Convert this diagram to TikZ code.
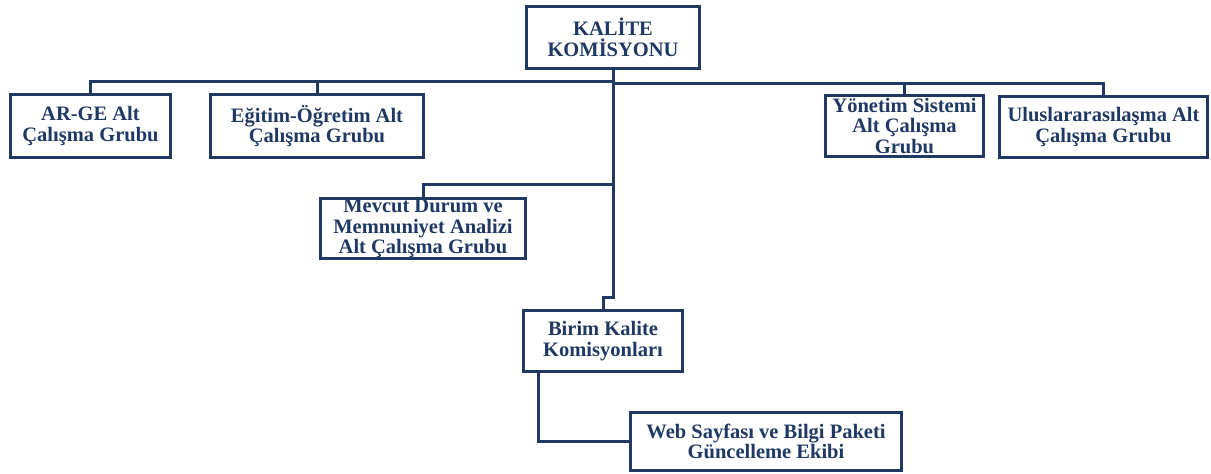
\documentclass[tikz,border=0pt]{standalone}
\usepackage{fontspec}
\setmainfont{Liberation Serif}
\definecolor{navy}{RGB}{31,56,100}
\begin{document}
\begin{tikzpicture}[x=1pt,y=-1pt,
  box/.style={draw=navy,line width=3pt,fill=white,inner sep=0pt,align=center,
    text=navy,font=\bfseries\fontsize{20.5}{20.5}\selectfont},
  conn/.style={draw=navy,line width=3pt}]
\useasboundingbox (0,0) rectangle (1211,474);
\node[box,minimum width=173pt,minimum height=62pt] (kal) at (613,37.5) {KALİTE\\KOMİSYONU};
\node[box,minimum width=160pt,minimum height=63pt] (arge) at (90.5,126) {AR-GE Alt\\Çalışma Grubu};
\node[box,minimum width=213pt,minimum height=63pt] (egt) at (317,126) {Eğitim-Öğretim Alt\\Çalışma Grubu};
\node[box,minimum width=158pt,minimum height=61pt] (yon) at (904.5,126) {Yönetim Sistemi\\Alt Çalışma\\Grubu};
\node[box,minimum width=208pt,minimum height=61pt] (ulus) at (1103.5,127) {Uluslararasılaşma Alt\\Çalışma Grubu};
\node[box,minimum width=205pt,minimum height=60pt] (mev) at (423,228.5) {Mevcut Durum ve\\Memnuniyet Analizi\\Alt Çalışma Grubu};
\node[box,minimum width=159pt,minimum height=61pt] (bir) at (603,341) {Birim Kalite\\Komisyonları};
\node[box,minimum width=271pt,minimum height=58pt] (web) at (766,441.5) {Web Sayfası ve Bilgi Paketi\\Güncelleme Ekibi};
\coordinate (bl) at (613,81);
\coordinate (br) at (613,83);
\coordinate (mj) at (613,184);
\coordinate (jog) at (613,297);
\draw[conn] (kal.south) -- (jog) -| (bir.north);
\draw[conn] (arge.north) |- (bl);
\draw[conn] (egt.north) |- (bl);
\draw[conn] (yon.north) |- (br);
\draw[conn] (ulus.north) |- (br);
\draw[conn] (mev.north) |- (mj);
\draw[conn] ([xshift=-65pt]bir.south) |- (web.west);
\end{tikzpicture}
\end{document}
